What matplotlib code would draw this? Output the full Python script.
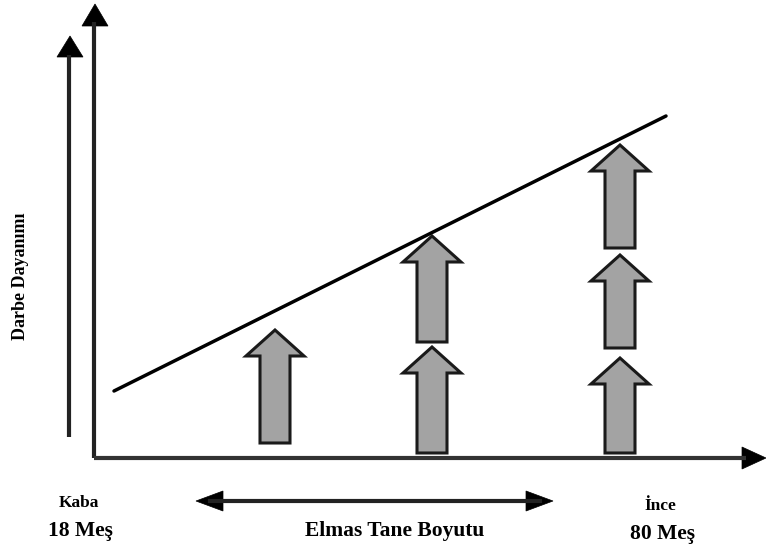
import matplotlib
matplotlib.use("Agg")
import matplotlib.pyplot as plt
from matplotlib.patches import Polygon

# diagram data (pixel space of the original figure, y grows downward)
column_x = [275, 432, 620]
arrow_tips = [[330], [236, 347], [145, 255, 358]]
arrow_bottoms = [[443], [342, 453], [248, 348, 453]]
trend_x = [114, 666]
trend_y = [391, 116]
y_label = "Darbe Dayanımı"
x_label = "Elmas Tane Boyutu"
left_labels = ["Kaba", "18 Meş"]
right_labels = ["İnce", "80 Meş"]

W, H = 766, 547
SERIF = ["Liberation Serif", "DejaVu Serif"]


def block_arrow(ax, cx, tip, bottom, head=26, hw=29, sw=15):
    base = tip + head
    pts = [(cx, tip), (cx + hw, base), (cx + sw, base), (cx + sw, bottom),
           (cx - sw, bottom), (cx - sw, base), (cx - hw, base)]
    ax.add_patch(Polygon(pts, closed=True, facecolor="#a3a3a3",
                         edgecolor="#1a1a1a", lw=2.2, joinstyle="miter"))


def head(ax, tip, direction, length, half):
    tx, ty = tip
    dx, dy = direction
    bx, by = tx - dx * length, ty - dy * length
    px, py = -dy, dx
    pts = [(tx, ty), (bx + px * half, by + py * half), (bx - px * half, by - py * half)]
    ax.add_patch(Polygon(pts, closed=True, facecolor="black", edgecolor="black", lw=0.5))


fig = plt.figure(figsize=(W / 100, H / 100), dpi=100)
ax = fig.add_axes([0, 0, 1, 1])
ax.set_xlim(0, W)
ax.set_ylim(H, 0)
ax.axis("off")

# axes
ax.plot([94, 94], [458, 22], color="#222222", lw=3, solid_capstyle="butt")
head(ax, (95, 4), (0, -1), 22, 13)
ax.plot([69, 69], [437, 55], color="#222222", lw=3, solid_capstyle="butt")
head(ax, (70, 36), (0, -1), 21, 13)
ax.plot([94, 746], [458, 458], color="#333333", lw=3, solid_capstyle="butt")
head(ax, (766, 458), (1, 0), 24, 11)

# trend line
ax.plot(trend_x, trend_y, color="black", lw=2.5, solid_capstyle="round")

# stacked block arrows
for cx, tips, bottoms in zip(column_x, arrow_tips, arrow_bottoms):
    for t, b in zip(tips, bottoms):
        block_arrow(ax, cx, t, b)

# double arrow under the axis
ax.plot([210, 540], [501, 501], color="#222222", lw=3)
head(ax, (196, 501), (-1, 0), 27, 10)
head(ax, (553, 501), (1, 0), 27, 10)

# labels
ax.text(21, 276, y_label, rotation=90, ha="center", va="center",
        fontsize=13, fontweight="bold", family=SERIF)
ax.text(79, 503, left_labels[0], ha="center", va="center",
        fontsize=12.5, fontweight="bold", family=SERIF)
ax.text(80, 531, left_labels[1], ha="center", va="center",
        fontsize=15.5, fontweight="bold", family=SERIF)
ax.text(395, 531, x_label, ha="center", va="center",
        fontsize=15.5, fontweight="bold", family=SERIF)
ax.text(660, 506, right_labels[0], ha="center", va="center",
        fontsize=12.5, fontweight="bold", family=SERIF)
ax.text(663, 534, right_labels[1], ha="center", va="center",
        fontsize=15.5, fontweight="bold", family=SERIF)

fig.savefig("out.png", dpi=100)
